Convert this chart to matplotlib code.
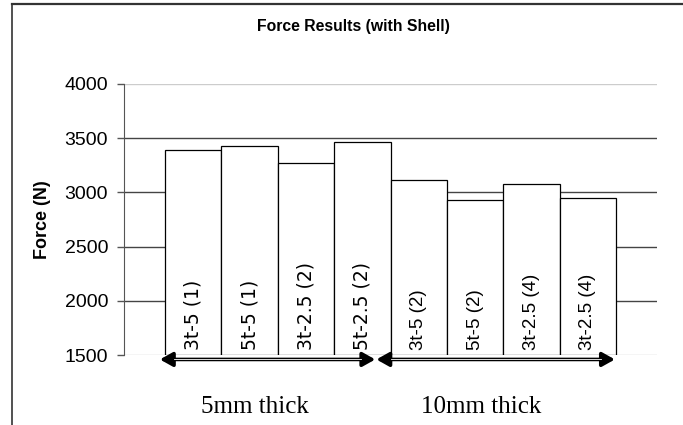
import matplotlib
matplotlib.use("Agg")
import matplotlib.pyplot as plt
from matplotlib.lines import Line2D

# data
labels = ["3t-5 (1)", "5t-5 (1)", "3t-2.5 (2)", "5t-2.5 (2)",
          "3t-5 (2)", "5t-5 (2)", "3t-2.5 (4)", "3t-2.5 (4)"]
force = [3395, 3428, 3267, 3465, 3113, 2933, 3076, 2945]
groups = ["5mm thick", "10mm thick"]
group_sizes = [4, 4]
yticks = [1500, 2000, 2500, 3000, 3500, 4000]

plt.rcParams['font.family'] = ['Liberation Sans', 'DejaVu Sans']

fig = plt.figure(figsize=(6.83, 4.25), dpi=100)
ax = fig.add_axes([124 / 683, 1 - 355 / 425, 533 / 683, 271 / 425])

# outer frame (top and left edges only show in the picture)
fig.add_artist(Line2D([11.5 / 683, 1], [1 - 4 / 425, 1 - 4 / 425], color='#333333', lw=1.6))
fig.add_artist(Line2D([11.5 / 683, 11.5 / 683], [0, 1 - 4 / 425], color='#333333', lw=1.2))

# gridlines
for t in yticks:
    if t in (yticks[0], yticks[-1]):
        col = '#cccccc'
    else:
        col = '#444444'
    ax.axhline(t, color=col, lw=1.0, zorder=1)

x = list(range(len(force)))
ax.bar(x, [f - yticks[0] for f in force], bottom=yticks[0], width=1.0,
       color='white', edgecolor='black', linewidth=0.9, zorder=2)

# labels inside the bars
for i, (xi, lab) in enumerate(zip(x, labels)):
    fam = 'DejaVu Sans' if i < group_sizes[0] else 'Liberation Sans'
    ax.text(xi, 1545, lab, rotation=90, ha='center', va='bottom',
            fontsize=13.5 if i < group_sizes[0] else 13.5, family=fam, zorder=3)

ax.set_xlim(-1.227, 8.227)
ax.set_ylim(yticks[0], yticks[-1])
ax.set_yticks(yticks)
ax.set_xticks([])
for s in ['top', 'right', 'bottom']:
    ax.spines[s].set_visible(False)
ax.spines['left'].set_color('#555555')
ax.tick_params(axis='y', length=5, width=1, color='#555555', pad=6.5, labelsize=14)

ax.set_ylabel("Force (N)", fontsize=13, fontweight='bold')
ax.yaxis.set_label_coords(-0.137, 0.5)
fig.text(353 / 683, 1 - 26 / 425, "Force Results (with Shell)", fontsize=11.3,
         fontweight='bold', ha='center', va='center')

# double headed arrows under each group
start = -0.5
ay = 1459
for g, n in zip(groups, group_sizes):
    x0 = start - 0.09 if start < 0 else start - 0.25
    x1 = start + n - 0.27 if start < 0 else start + n - 0.02
    ax.annotate("", xy=(x1, ay), xytext=(x0, ay), annotation_clip=False,
                arrowprops=dict(arrowstyle='<|-|>,head_length=0.75,head_width=0.42',
                                color='black', lw=2.6, shrinkA=0, shrinkB=0))
    ax.plot([x0 + 0.25, x1 - 0.25], [ay, ay], color='white', lw=0.6, clip_on=False, zorder=5)
    ax.text(start + n / 2 - 0.4, -0.192, g, transform=ax.get_xaxis_transform(),
            ha='center', va='center', fontsize=18, family='Liberation Serif')
    start += n

fig.savefig("out.png", dpi=100)
